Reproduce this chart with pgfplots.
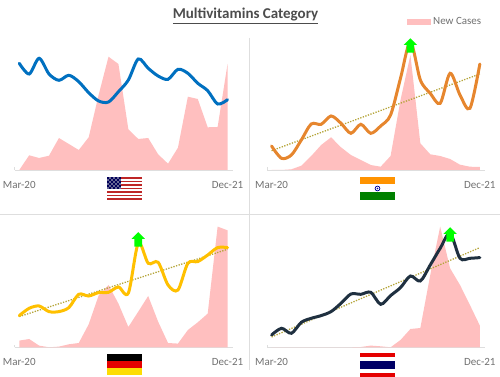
\documentclass[border=0pt]{standalone}
\usepackage{fontspec}
\setmainfont{Carlito}
\usepackage{pgfplots}
\pgfplotsset{compat=1.18}
\definecolor{areac}{HTML}{FFBFBF}
\definecolor{usblue}{HTML}{0070C0}
\definecolor{inor}{HTML}{E6862E}
\definecolor{deyel}{HTML}{FFC000}
\definecolor{thdark}{HTML}{1F3040}
\definecolor{trendc}{HTML}{B5A53A}
\definecolor{arrowg}{HTML}{00FF00}
\definecolor{txtc}{HTML}{707070}
\definecolor{linec}{HTML}{DEDEDE}
\pgfdeclareplotmark{uparrow}{%
  \pgfpathmoveto{\pgfqpoint{-3.8pt}{0pt}}%
  \pgfpathlineto{\pgfqpoint{3.8pt}{0pt}}%
  \pgfpathlineto{\pgfqpoint{3.8pt}{7.7pt}}%
  \pgfpathlineto{\pgfqpoint{6.7pt}{7.7pt}}%
  \pgfpathlineto{\pgfqpoint{0pt}{14.4pt}}%
  \pgfpathlineto{\pgfqpoint{-6.7pt}{7.7pt}}%
  \pgfpathlineto{\pgfqpoint{-3.8pt}{7.7pt}}%
  \pgfpathclose\pgfusepathqfill}
\pgfplotsset{panel/.style={
  scale only axis, width=217.8pt, height=140pt,
  xmin=-0.46, xmax=21.5, ymin=0, ymax=140,
  clip=false,
  axis y line=none, axis x line*=bottom,
  axis line style={linec, line width=0.9pt, -},
  xtick={-0.46,20.5}, xticklabels={},
  major tick length=2.5pt,
  x tick style={linec, line width=0.7pt},
  extra x ticks={0,21},
  extra x tick labels={Mar-20,Dec-21},
  extra x tick style={major tick length=0pt,
    tick label style={font=\fontsize{11}{12}\selectfont, text=txtc, yshift=-8pt}},
}}
\pgfplotsset{
  areaplot/.style={fill=areac, draw=none, forget plot},
  mainline/.style={smooth, tension=0.5, line width=3pt, no marks, line cap=round},
  trend/.style={trendc, line width=1.3pt, dash pattern=on 1.3pt off 1.4pt, no marks},
  arrowmark/.style={only marks, mark=uparrow, mark options={color=arrowg, fill=arrowg}},
}
\begin{document}
\begin{tikzpicture}[x=1pt,y=1pt]
\path[use as bounding box] (0,0) rectangle (500,377);
% separators
\draw[linec, line width=0.8pt] (249.3,339) -- (249.3,7);
\draw[linec, line width=0.8pt] (0,163) -- (500,163);
% title
\node[font=\bfseries\fontsize{15}{18}\selectfont, text=black!70] at (245.5,361) {\underline{Multivitamins Category}};

% USA
\begin{axis}[panel, at={(14.7pt,207pt)}, anchor=south west]
\addplot[areaplot] coordinates {(0,0)(1,14.7)(2,12)(3,14.3)(4,32)(5,26)(6,20)(7,32.7)(8,75)(9,113.3)(10,106)(11,40.7)(12,31)(13,32)(14,15.7)(15,6.3)(16,22.3)(17,73.3)(18,71)(19,42.7)(20,43)(21,106)(21,0)} \closedcycle;
\addplot[mainline, usblue] coordinates {(0,106.7)(1,96)(2,111.7)(3,96)(4,89.7)(5,94.7)(6,88.3)(7,77.3)(8,69)(9,68)(10,78.3)(11,90)(12,111)(13,101.7)(14,94)(15,90.7)(16,100.7)(17,96.7)(18,86.7)(19,79.3)(20,66)(21,70.3)};
\end{axis}

% India
\begin{axis}[panel, at={(267pt,207pt)}, anchor=south west,
  legend style={at={(axis cs:13.65,148)}, anchor=west, draw=none, fill=none, inner sep=0pt,
    nodes={font=\fontsize{11}{12}\selectfont, text=txtc},
    /tikz/every even column/.style={column sep=2pt}},
  legend image code/.code={\fill[areac] (0pt,-3pt) rectangle (24pt,3pt);},
  legend cell align=left]
\addplot[fill=areac, draw=none] coordinates {(0,0)(1,0)(2,0.7)(3,4.3)(4,14)(5,25)(6,32.7)(7,22.7)(8,15)(9,10)(10,5)(11,3.3)(12,14)(13,70)(14,115)(15,26.7)(16,15.7)(17,14)(18,11)(19,5.3)(20,3.3)(21,3)} \closedcycle;
\addlegendentry{New Cases}
\addplot[trend, forget plot] coordinates {(0,19.3)(21,96)};
\addplot[mainline, inor, forget plot] coordinates {(0,24)(1,11.7)(2,15)(3,30)(4,46)(5,45.7)(6,54)(7,46.7)(8,36.7)(9,45.7)(10,36.7)(11,44)(12,55)(13,91.7)(14,128)(15,90)(16,76.7)(17,66.7)(18,96.7)(19,75)(20,61.7)(21,106)};
\addplot[arrowmark, forget plot] coordinates {(14,117.3)};
\end{axis}

% Germany
\begin{axis}[panel, at={(14.7pt,29.7pt)}, anchor=south west]
\addplot[areaplot] coordinates {(0,6.7)(1,8.3)(2,1.7)(3,0)(4,0.7)(5,3)(6,4.3)(7,23)(8,51.7)(9,62.3)(10,43.7)(11,20.3)(12,35.7)(13,51.3)(14,25.7)(15,4.3)(16,3.7)(17,17.3)(18,25)(19,33.7)(20,120.7)(21,117)} \closedcycle;
\addplot[trend] coordinates {(0,30.7)(21,98)};
\addplot[mainline, deyel] coordinates {(0,31.7)(1,39)(2,41.3)(3,35.7)(4,35.7)(5,39.7)(6,53)(7,51.3)(8,54.7)(9,55)(10,60.3)(11,54.3)(12,104)(13,84)(14,85)(15,62.3)(16,57.3)(17,84)(18,85.7)(19,92.3)(20,99.7)(21,99.7)};
\addplot[arrowmark] coordinates {(12,100.7)};
\end{axis}

% Thailand
\begin{axis}[panel, at={(267pt,29.7pt)}, anchor=south west]
\addplot[areaplot] coordinates {(0,0)(1,0)(2,0)(3,0)(4,0)(5,0)(6,0)(7,0)(8,0)(9,0.3)(10,1.7)(11,1)(12,0)(13,7.3)(14,18.3)(15,19.3)(16,72.3)(17,120.7)(18,79)(19,62.3)(20,42.3)(21,21.7)} \closedcycle;
\addplot[trend] coordinates {(0,10.3)(21,99.7)};
\addplot[mainline, thdark] coordinates {(0,12.3)(1,19)(2,14)(3,25)(4,29)(5,31.7)(6,35.7)(7,44)(8,53.3)(9,53)(10,55)(11,43)(12,51.7)(13,59.7)(14,71.3)(15,66.3)(16,82.3)(17,99)(18,114)(19,89)(20,89)(21,89.7)};
\addplot[arrowmark] coordinates {(18,105.7)};
\end{axis}

% flags (picture pixels, y downward)
\begin{scope}[shift={(0,377)}, y=-1pt]
% USA
\foreach \i in {0,2,...,12} \fill[red!70!black!85!white] (107,{177+\i*1.77}) rectangle (142,{177+\i*1.77+1.77});
\foreach \i in {1,3,...,11} \fill[white] (107,{177+\i*1.77}) rectangle (142,{177+\i*1.77+1.77});
\fill[blue!30!black!60!white] (107,177) rectangle (121,189.4);
\foreach \a in {0,...,6} \foreach \b in {0,...,5} {
  \pgfmathparse{int(mod(\a+\b,2))}
  \ifnum\pgfmathresult=0 \fill[blue!35!black] ({107+\a*2},{177+\b*2.07}) rectangle ({109+\a*2},{179.07+\b*2.07}); \fi }
% India
\fill[orange!85!yellow] (360,177) rectangle (395,184.5);
\fill[green!50!black] (360,192.5) rectangle (395,200.5);
\draw[blue!60!black, line width=0.7pt] (377.5,188.5) circle (2.4);
\fill[blue!60!black] (377.5,188.5) circle (0.9);
% Germany
\fill[black] (107,354) rectangle (142,361);
\fill[red!90!black] (107,361) rectangle (142,368);
\fill[yellow!80!orange] (107,368) rectangle (142,375);
% Thailand
\fill[red!90!black] (360,353.5) rectangle (395,357.5);
\fill[blue!40!black] (360,361.5) rectangle (395,369);
\fill[red!90!black] (360,373) rectangle (395,377);
\end{scope}
\end{tikzpicture}
\end{document}
